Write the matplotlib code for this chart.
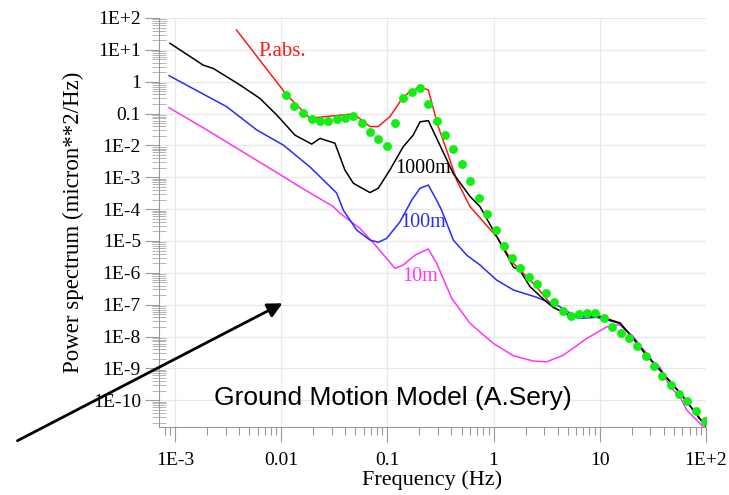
import numpy as np
import matplotlib.pyplot as plt
from matplotlib.ticker import FixedLocator, LogLocator, NullFormatter

# 1000m (black)
f_1000 = [0.0009, 0.00185, 0.0023, 0.0041, 0.0063, 0.0091, 0.0135, 0.0194, 0.0232, 0.0321,
          0.0398, 0.0478, 0.0686, 0.082, 0.1057, 0.141, 0.175, 0.203, 0.243, 0.418, 0.60,
          0.745, 1.236, 1.54, 1.77, 2.2, 3.16, 3.65, 5.24, 7.0, 10.0, 15.5, 20.7, 27.5,
          36.9, 56.9, 94.4, 100.0]
p_1000 = [16, 3.3, 2.6, 0.79, 0.30, 0.09, 0.021, 0.011, 0.0166, 0.0117,
          1.7e-3, 6.5e-4, 3.3e-4, 4.5e-4, 1.7e-3, 9.1e-3, 0.021, 0.055, 0.060, 1.3e-3, 2.5e-4,
          1.2e-4, 5.9e-6, 1.5e-6, 1.2e-6, 3.7e-7, 1.2e-7, 8.3e-8, 4.4e-8, 4.4e-8, 4.2e-8, 2.6e-8,
          8.7e-9, 2.6e-9, 8.9e-10, 1.7e-10, 1.9e-11, 1.5e-11]

# P.abs. (red)
f_abs = [0.0038, 0.0113, 0.0187, 0.0289, 0.0445, 0.0498, 0.0686, 0.082, 0.1057, 0.1315,
         0.163, 0.21, 0.243, 0.301, 0.361, 0.449, 0.60, 1.07, 1.535, 2.55, 3.65, 5.24,
         7.0, 10.0, 15.5, 20.7, 27.5, 36.9, 56.9, 94.4, 100.0]
p_abs = [42, 0.38, 0.071, 0.083, 0.095, 0.09, 0.039, 0.039, 0.08, 0.235,
         0.51, 0.66, 0.55, 0.039, 7.2e-3, 8.1e-4, 1.2e-4, 1.35e-5, 2e-6, 3.6e-7, 8.3e-8, 4.6e-8,
         4.6e-8, 4.3e-8, 2.7e-8, 8.7e-9, 2.6e-9, 8.9e-10, 1.7e-10, 1.9e-11, 1.5e-11]

# 100m (blue)
f_100 = [0.00088, 0.00307, 0.0059, 0.0105, 0.0187, 0.0333, 0.0385, 0.0514, 0.0686, 0.082,
         0.0984, 0.1315, 0.1694, 0.203, 0.243, 0.291, 0.324, 0.418, 0.558, 0.745, 1.07,
         1.535, 2.55, 4.2, 6.28, 9.36, 15.5, 20.7, 27.5, 36.9, 56.9, 94.4, 100.0]
p_100 = [1.55, 0.164, 0.0305, 0.0102, 2.1e-3, 3.2e-4, 9.3e-5, 2.2e-5, 1.07e-5, 9.1e-6,
         1.2e-5, 4.0e-5, 1.9e-4, 4.5e-4, 5.7e-4, 1.9e-4, 9.3e-5, 1.07e-5, 3.6e-6, 1.76e-6, 5.9e-7,
         2.9e-7, 1.7e-7, 8.7e-8, 3.7e-8, 4e-8, 2.6e-8, 8.7e-9, 2.6e-9, 8.9e-10, 1.7e-10, 1.9e-11, 1.5e-11]

# 10m (magenta)
f_10 = [0.00088, 0.002, 0.0105, 0.015, 0.031, 0.0358, 0.0552, 0.0793, 0.118, 0.141,
        0.182, 0.243, 0.291, 0.403, 0.60, 0.993, 1.535, 2.37, 3.16, 4.54, 7.53, 11.6,
        14.4, 15.5, 20.7, 31.9, 36.9, 45.8, 56.9, 65.8, 100.0]
p_10 = [0.153, 0.0305, 1.05e-3, 5e-4, 1.2e-4, 7.4e-5, 2.5e-5, 6.6e-6, 1.38e-6, 1.76e-6,
        3.6e-6, 5.6e-6, 2e-6, 1.6e-7, 2.6e-8, 6.1e-9, 2.5e-9, 1.7e-9, 1.6e-9, 2.6e-9, 8.7e-9, 2.0e-8,
        2.3e-8, 2.3e-8, 1.0e-8, 1.6e-9, 1.1e-9, 2.6e-10, 1.3e-10, 4.9e-11, 1.2e-11]

# measured (green dots)
f_meas = [0.0111, 0.0133, 0.0161, 0.0194, 0.0232, 0.0278, 0.0333, 0.0399, 0.0478, 0.0573,
          0.0686, 0.082, 0.0984, 0.118, 0.141, 0.169, 0.203, 0.243, 0.291, 0.348,
          0.418, 0.501, 0.60, 0.724, 0.867, 1.05, 1.25, 1.48, 1.77, 2.15,
          2.58, 3.11, 3.7, 4.48, 5.3, 6.37, 7.6, 9.1, 11.0, 13.1,
          15.7, 18.8, 22.5, 27.0, 32.4, 38.8, 46.5, 55.7, 66.7, 80.5, 98.0]
p_meas = [0.38, 0.176, 0.102, 0.066, 0.058, 0.058, 0.066, 0.071, 0.084, 0.052,
          0.026, 0.0159, 0.0098, 0.049, 0.30, 0.46, 0.62, 0.195, 0.060, 0.021,
          7.5e-3, 2.7e-3, 7.8e-4, 2.3e-4, 7e-5, 2.2e-5, 7.1e-6, 2.85e-6, 1.38e-6, 7.6e-7,
          4.4e-7, 2.4e-7, 1.24e-7, 6.5e-8, 4.4e-8, 5.1e-8, 5.3e-8, 5.3e-8, 3.9e-8, 2.0e-8,
          1.3e-8, 9.2e-9, 5.0e-9, 2.4e-9, 1.2e-9, 5.8e-10, 3.0e-10, 1.6e-10, 9.5e-11, 4.6e-11, 2.3e-11]

xticks = [1e-3, 1e-2, 1e-1, 1, 10, 100]
xlabels = ["1E-3", "0.01", "0.1", "1", "10", "1E+2"]
yticks = [10.0**k for k in range(2, -11, -1)]
ylabels = ["1E+2", "1E+1", "1", "0.1", "1E-2", "1E-3", "1E-4", "1E-5", "1E-6",
           "1E-7", "1E-8", "1E-9", "1E-10"]

serif = "Liberation Serif"
fig = plt.figure(figsize=(7.29, 4.95), dpi=100)
ax = fig.add_axes([159/729, 1-427/495, (706-159)/729, (427-18)/495])

ax.plot(f_abs, p_abs, color="#ff1a1a", lw=1.1)
ax.plot(f_10, p_10, color="#ff33ff", lw=1.1)
ax.plot(f_100, p_100, color="#2a2aff", lw=1.1)
ax.plot(f_1000, p_1000, color="black", lw=1.1)
ax.plot(f_meas, p_meas, "o", color="#11ee11", ms=6.4, mec="none")

ax.set_xscale("log")
ax.set_yscale("log")
ax.set_xlim(10**-3.15, 100)
ax.set_ylim(10**-10.84, 100)

ax.xaxis.set_major_locator(FixedLocator(xticks))
ax.set_xticklabels(xlabels, fontfamily=serif, fontsize=14)
ax.xaxis.set_minor_locator(LogLocator(base=10, subs=np.arange(2, 10), numticks=20))
ax.xaxis.set_minor_formatter(NullFormatter())
ax.yaxis.set_major_locator(FixedLocator(yticks))
ax.set_yticklabels(ylabels, fontfamily=serif, fontsize=14)
ax.yaxis.set_minor_locator(LogLocator(base=10, subs=np.arange(2, 10), numticks=20))
ax.yaxis.set_minor_formatter(NullFormatter())

ax.tick_params(axis="x", which="major", direction="out", length=11, color="#999999", width=0.8, pad=7)
ax.tick_params(axis="x", which="minor", direction="out", length=6, color="#999999", width=0.8)
ax.tick_params(axis="y", which="major", direction="out", length=10, color="#999999", width=0.8, pad=3)
ax.tick_params(axis="y", which="minor", direction="inout", length=10, color="#aaaaaa", width=0.6)

ax.grid(True, which="major", color="#e8e8e8", lw=0.9)
for s in ["top", "right"]:
    ax.spines[s].set_visible(False)
for s in ["left", "bottom"]:
    ax.spines[s].set_color("#999999")
    ax.spines[s].set_linewidth(0.8)

ax.set_xlabel("Frequency (Hz)", fontfamily=serif, fontsize=16, labelpad=1)
ax.set_ylabel("Power spectrum (micron**2/Hz)", fontfamily=serif, fontsize=16.5, labelpad=6)

ax.text(0.00605, 9.2, "P.abs.", color="#ff1a1a", fontfamily=serif, fontsize=15, va="center")
ax.text(0.118, 1.95e-3, "1000m", color="black", fontfamily=serif, fontsize=14.5, va="center")
ax.text(0.1315, 3.9e-5, "100m", color="#2a2aff", fontfamily=serif, fontsize=14.5, va="center")
ax.text(0.137, 7.4e-7, "10m", color="#ff33ff", fontfamily=serif, fontsize=14.5, va="center")

fig.text(393/729, 1-398/495, "Ground Motion Model (A.Sery)", fontfamily="Liberation Sans",
         fontsize=19, ha="center", va="center")
ax.annotate("", xy=(285/729, 1-302/495), xycoords="figure fraction",
            xytext=(15/729, 1-442/495), textcoords="figure fraction",
            arrowprops=dict(arrowstyle="-|>", color="black", lw=2.0, mutation_scale=22))

fig.savefig("out.png", dpi=100)
